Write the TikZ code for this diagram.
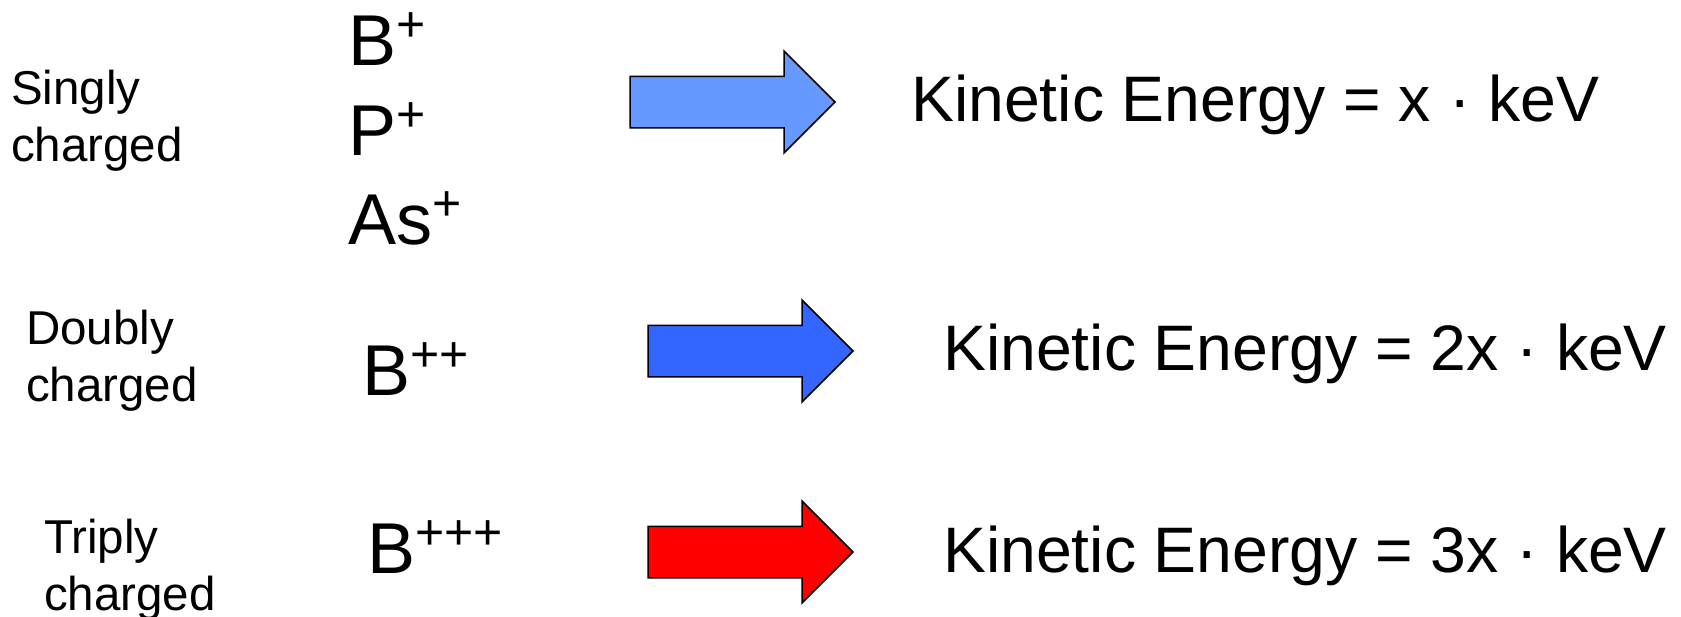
\documentclass[tikz,border=0pt]{standalone}
\usepackage{fontspec}
\setmainfont{Liberation Sans}
\definecolor{lightblue}{HTML}{6699FF}
\definecolor{midblue}{HTML}{3366FF}
\definecolor{pure red}{HTML}{FF0000}
% raised charge signs after an element symbol
\newcommand\ioncharge[1]{\raisebox{24pt}{\fontsize{50}{50}\selectfont #1}}
\tikzset{
  chargelabel/.style={anchor=base west, inner sep=0pt, align=left,
    font=\fontsize{47.5}{57}\selectfont},
  ionlabel/.style={anchor=base west, inner sep=0pt,
    font=\fontsize{72}{80}\selectfont},
  energylabel/.style={anchor=base west, inner sep=0pt,
    font=\fontsize{64.3}{70}\selectfont},
  fatarrow/.pic={
    \path[pic actions] (0,-25.75) -- (154,-25.75) -- (154,-51) -- (205,0)
      -- (154,51) -- (154,25.75) -- (0,25.75) -- cycle;
  },
  arrowbody/.style={draw=black, line width=1.5pt, line join=miter}
}
\begin{document}
\begin{tikzpicture}[x=1pt, y=-1pt]
\useasboundingbox (0,0) rectangle (1681,616);

% charge state labels (anchored on the baseline of the second line)
\node[chargelabel] (singly) at (11,161) {Singly\\charged};
\node[chargelabel] (doubly) at (26,401) {Doubly\\charged};
\node[chargelabel] (triply) at (44,610) {Triply\\charged};

% ion species
\node[ionlabel] (bplus)  at (348,65)  {B\ioncharge{+}};
\node[ionlabel] (pplus)  at (348,155) {P\ioncharge{+}};
\node[ionlabel] (asplus) at (348,244) {As\ioncharge{+}};
\node[ionlabel] (b2plus) at (362,395) {B\ioncharge{++}};
\node[ionlabel] (b3plus) at (367,573) {B\ioncharge{+++}};

% block arrows
\pic[arrowbody, fill=lightblue] (arrowone) at (630,102) {fatarrow};
\pic[arrowbody, fill=midblue]   (arrowtwo) at (648,351) {fatarrow};
\pic[arrowbody, fill=pure red]  (arrowthree) at (648,552) {fatarrow};

% resulting energies
\node[energylabel] (eone)   at (911,121) {Kinetic Energy = x · keV};
\node[energylabel] (etwo)   at (943,370) {Kinetic Energy = 2x · keV};
\node[energylabel] (ethree) at (943,572) {Kinetic Energy = 3x · keV};
\end{tikzpicture}
\end{document}
